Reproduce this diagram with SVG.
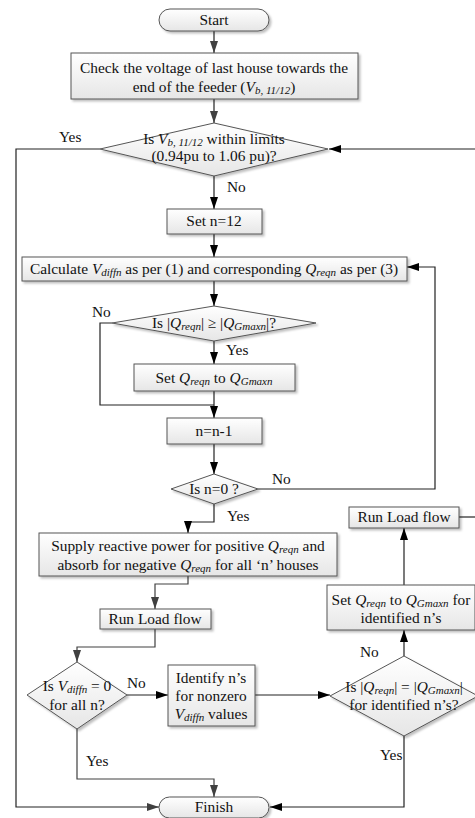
<svg xmlns="http://www.w3.org/2000/svg" width="475" height="818" viewBox="0 0 475 818">
<defs>
<linearGradient id="g" x1="0" y1="0" x2="0" y2="1">
<stop offset="0" stop-color="#ffffff"/>
<stop offset="1" stop-color="#e6e6e6"/>
</linearGradient>
<filter id="sh" x="-10%" y="-10%" width="130%" height="140%">
<feDropShadow dx="2" dy="2" stdDeviation="0.8" flood-color="#000" flood-opacity="0.25"/>
</filter>
<marker id="a" viewBox="0 0 12 8" refX="12" refY="4" markerWidth="12" markerHeight="8" markerUnits="userSpaceOnUse" orient="auto">
<path d="M0,0 L12,4 L0,8 z" fill="#000"/>
</marker>
<marker id="b" viewBox="0 0 12 8" refX="12" refY="4" markerWidth="12" markerHeight="8" markerUnits="userSpaceOnUse" orient="auto">
<path d="M0,0 L12,4 L0,8 z" fill="#404040"/>
</marker>
</defs>
<style>
.n{fill:url(#g);stroke:#555;stroke-width:1;filter:url(#sh)}
.t{font-family:"Liberation Serif","Times New Roman",serif;font-size:15.4px;fill:#111;text-anchor:middle}
.l{font-family:"Liberation Serif","Times New Roman",serif;font-size:15.4px;fill:#111}
.i{font-style:italic}
.s{font-style:italic;font-size:11px}
.c{fill:none;stroke:#222;stroke-width:1.2}
.c2{fill:none;stroke:#404040;stroke-width:1.2}
</style>

<g id="connectors">
<line class="c" x1="214" y1="31" x2="214" y2="53" marker-end="url(#b)"/>
<line class="c" x1="214" y1="99" x2="214" y2="123" marker-end="url(#b)"/>
<polyline class="c" points="100,149 16,149 16,807 159,807" marker-end="url(#b)"/>
<line class="c" x1="475" y1="149" x2="329" y2="149" marker-end="url(#a)"/>
<line class="c" x1="214" y1="176" x2="214" y2="209" marker-end="url(#a)"/>
<line class="c" x1="214" y1="234" x2="214" y2="257" marker-end="url(#a)"/>
<line class="c" x1="214" y1="281" x2="214" y2="306" marker-end="url(#a)"/>
<polyline class="c" points="112,323 100,323 100,405 214,405"/>
<line class="c" x1="214" y1="341" x2="214" y2="364" marker-end="url(#a)"/>
<line class="c" x1="214" y1="391" x2="214" y2="418" marker-end="url(#a)"/>
<line class="c" x1="214" y1="444" x2="214" y2="474" marker-end="url(#a)"/>
<polyline class="c" points="258,489 435,489 435,267 407,267" marker-end="url(#a)"/>
<polyline class="c" points="214,504 214,522 188,522 188,533" marker-end="url(#a)"/>
<polyline class="c2" points="188,576 188,584 155,584 155,609" marker-end="url(#b)"/>
<polyline class="c2" points="155,629 155,647 77,647 77,662" marker-end="url(#b)"/>
<line class="c" x1="127" y1="695" x2="168" y2="695" marker-end="url(#a)"/>
<line class="c" x1="255" y1="695" x2="330" y2="695" marker-end="url(#a)"/>
<line class="c" x1="404" y1="656" x2="404" y2="630" marker-end="url(#a)"/>
<line class="c" x1="404" y1="585" x2="404" y2="528" marker-end="url(#a)"/>
<line class="c" x1="459" y1="517" x2="475" y2="517"/>
<polyline class="c" points="404,736 404,807 270,807" marker-end="url(#a)"/>
<polyline class="c2" points="77,729 77,779 214,779 214,797" marker-end="url(#b)"/>
</g>

<g id="start">
<rect class="n" x="159" y="9" width="110" height="22" rx="11"/>
<text class="t" x="214" y="25">Start</text>
</g>

<g id="check">
<rect class="n" x="71" y="53" width="287" height="46"/>
<text class="t" x="214" y="73">Check the voltage of last house towards the</text>
<text class="t" x="214" y="92">end of the feeder (<tspan class="i">V</tspan><tspan class="s" dy="2">b, 11/12</tspan><tspan dy="-2">)</tspan></text>
</g>

<g id="limits">
<polygon class="n" points="214,123 328,149 214,176 100,149"/>
<text class="t" x="214" y="144">Is <tspan class="i">V</tspan><tspan class="s" dy="2">b, 11/12</tspan><tspan dy="-2"> within limits</tspan></text>
<text class="t" x="214" y="161">(0.94pu to 1.06 pu)?</text>
<text class="l" x="59" y="142">Yes</text>
<text class="l" x="227" y="192">No</text>
</g>

<g id="setn">
<rect class="n" x="167" y="209" width="95" height="25"/>
<text class="t" x="214" y="226">Set n=12</text>
</g>

<g id="calc">
<rect class="n" x="22" y="257" width="385" height="24"/>
<text class="t" x="214" y="274">Calculate <tspan class="i">V</tspan><tspan class="s" dy="2">diffn</tspan><tspan dy="-2"> as per (1) and corresponding </tspan><tspan class="i">Q</tspan><tspan class="s" dy="2">reqn</tspan><tspan dy="-2"> as per (3)</tspan></text>
</g>

<g id="compare">
<polygon class="n" points="214,306 316,323 214,341 112,323"/>
<text class="t" x="214" y="328">Is |<tspan class="i">Q</tspan><tspan class="s" dy="2">reqn</tspan><tspan dy="-2">| ≥ |</tspan><tspan class="i">Q</tspan><tspan class="s" dy="2">Gmaxn</tspan><tspan dy="-2">|?</tspan></text>
<text class="l" x="92" y="317">No</text>
<text class="l" x="226" y="355">Yes</text>
</g>

<g id="setq">
<rect class="n" x="134" y="364" width="161" height="27"/>
<text class="t" x="214" y="383">Set <tspan class="i">Q</tspan><tspan class="s" dy="2">reqn</tspan><tspan dy="-2"> to </tspan><tspan class="i">Q</tspan><tspan class="s" dy="2">Gmaxn</tspan></text>
</g>

<g id="decn">
<rect class="n" x="167" y="418" width="95" height="26"/>
<text class="t" x="214" y="436">n=n-1</text>
</g>

<g id="nzero">
<polygon class="n" points="214,474 258,489 214,504 171,489"/>
<text class="t" x="214" y="494">Is n=0 ?</text>
<text class="l" x="272" y="484">No</text>
<text class="l" x="227" y="521">Yes</text>
</g>

<g id="supply">
<rect class="n" x="39" y="533" width="298" height="43"/>
<text class="t" x="188" y="551">Supply reactive power for positive <tspan class="i">Q</tspan><tspan class="s" dy="2">reqn</tspan><tspan dy="-2"> and</tspan></text>
<text class="t" x="188" y="570">absorb for negative  <tspan class="i">Q</tspan><tspan class="s" dy="2">reqn</tspan><tspan dy="-2"> for all ‘n’ houses</tspan></text>
</g>

<g id="loadflow1">
<rect class="n" x="100" y="609" width="111" height="20"/>
<text class="t" x="155" y="624">Run Load flow</text>
</g>

<g id="vdiff">
<polygon class="n" points="77,662 127,695 77,729 27,695"/>
<text class="t" x="77" y="691">Is <tspan class="i">V</tspan><tspan class="s" dy="2">diffn</tspan><tspan dy="-2"> = 0</tspan></text>
<text class="t" x="77" y="710">for all n?</text>
<text class="l" x="127" y="688">No</text>
<text class="l" x="86" y="766">Yes</text>
</g>

<g id="identify">
<rect class="n" x="168" y="665" width="87" height="61"/>
<text class="t" x="211" y="683">Identify n’s</text>
<text class="t" x="211" y="701">for nonzero</text>
<text class="t" x="211" y="719"><tspan class="i">V</tspan><tspan class="s" dy="2">diffn</tspan><tspan dy="-2"> values</tspan></text>
</g>

<g id="qequal">
<polygon class="n" points="404,656 478,696 404,736 330,696"/>
<text class="t" x="404" y="692">Is |<tspan class="i">Q</tspan><tspan class="s" dy="2">reqn</tspan><tspan dy="-2">| = |</tspan><tspan class="i">Q</tspan><tspan class="s" dy="2">Gmaxn</tspan><tspan dy="-2">|</tspan></text>
<text class="t" x="404" y="710">for identified n’s?</text>
<text class="l" x="360" y="657">No</text>
<text class="l" x="380" y="760">Yes</text>
</g>

<g id="setqid">
<rect class="n" x="327" y="585" width="148" height="45"/>
<text class="t" x="401" y="605">Set <tspan class="i">Q</tspan><tspan class="s" dy="2">reqn</tspan><tspan dy="-2"> to </tspan><tspan class="i">Q</tspan><tspan class="s" dy="2">Gmaxn</tspan><tspan dy="-2"> for</tspan></text>
<text class="t" x="401" y="623">identified n’s</text>
</g>

<g id="loadflow2">
<rect class="n" x="349" y="507" width="110" height="21"/>
<text class="t" x="404" y="522">Run Load flow</text>
</g>

<g id="finish">
<rect class="n" x="159" y="797" width="110" height="21" rx="10.5"/>
<text class="t" x="214" y="812">Finish</text>
</g>
</svg>
